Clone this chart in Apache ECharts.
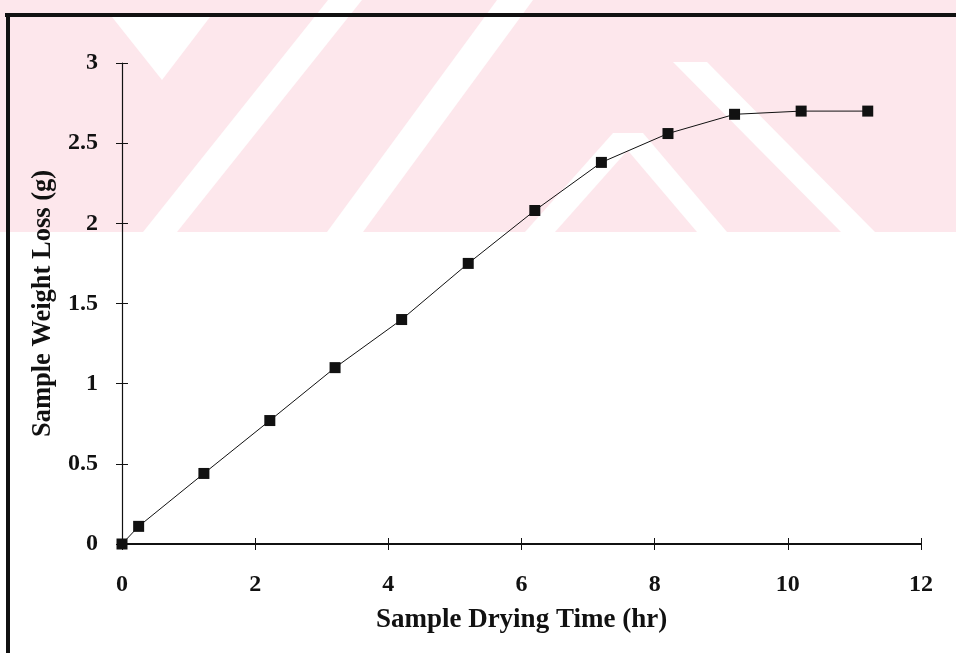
<!DOCTYPE html>
<html>
<head>
<meta charset="utf-8">
<script src="https://cdn.jsdelivr.net/npm/echarts@6/dist/echarts.min.js"></script>
<style>
html,body{margin:0;padding:0;background:#fff;}
#chart{width:956px;height:653px;}
</style>
</head>
<body>
<div id="chart"></div>
<script>
// Data
const dryingTime = [0, 0.25, 1.23, 2.22, 3.2, 4.2, 5.2, 6.2, 7.2, 8.2, 9.2, 10.2, 11.2];
const weightLoss = [0, 0.11, 0.44, 0.77, 1.10, 1.40, 1.75, 2.08, 2.38, 2.56, 2.68, 2.70, 2.70];
const xTicks = [0, 2, 4, 6, 8, 10, 12];
const yTicks = [0, 0.5, 1, 1.5, 2, 2.5, 3];
const xTitle = 'Sample Drying Time (hr)';
const yTitle = 'Sample Weight Loss (g)';

const chart = echarts.init(document.getElementById('chart'), null, {renderer: 'canvas'});
const FONT = '"Liberation Serif", "Times New Roman", serif';
const pink = '#fde7ec';

function band(p1, p2, w) {
  return [[p1[0]-w/2,p1[1]],[p1[0]+w/2,p1[1]],[p2[0]+w/2,p2[1]],[p2[0]-w/2,p2[1]]];
}
const wm = [
  {type:'rect', shape:{x:0,y:0,width:956,height:232}, style:{fill:pink}, z:-10, silent:true}
];
const whiteShapes = [
  band([345,0],[160,232],34),
  band([515,0],[345,232],36),
  band([628,133],[540,232],30),
  band([628,133],[712,232],30),
  band([690,62],[858,232],34),
  [[112,17],[210,17],[162,80]]
];
whiteShapes.forEach(pts => wm.push({type:'polygon', shape:{points:pts}, style:{fill:'#fff'}, z:-9, silent:true}));
// frame
wm.push({type:'rect', shape:{x:5,y:13,width:951,height:4}, style:{fill:'#111'}, z:-5, silent:true});
wm.push({type:'rect', shape:{x:6,y:13,width:4,height:640}, style:{fill:'#111'}, z:-5, silent:true});

const labelStyle = {color:'#111', fontFamily:FONT, fontWeight:'bold', fontSize:24};
const nameStyle = {color:'#111', fontFamily:FONT, fontWeight:'bold', fontSize:27};

chart.setOption({
  animation:false,
  backgroundColor:'#fff',
  graphic: wm,
  grid:{left:122, right:35, top:63, bottom:109, containLabel:false},
  xAxis:[{
    type:'value', min:xTicks[0], max:xTicks[xTicks.length-1], interval:2,
    name:xTitle, nameLocation:'middle', nameGap:63, nameTextStyle:nameStyle,
    axisLine:{show:true, onZero:false, lineStyle:{color:'#111', width:2}},
    axisTick:{show:true, length:6, lineStyle:{color:'#111', width:1}},
    axisLabel:Object.assign({margin:29}, labelStyle),
    splitLine:{show:false}
  },{
    type:'value', min:xTicks[0], max:xTicks[xTicks.length-1], interval:2, position:'bottom',
    axisLine:{show:false}, axisTick:{show:true, inside:true, length:6, lineStyle:{color:'#111', width:1}},
    axisLabel:{show:false}, splitLine:{show:false}
  }],
  yAxis:[{
    type:'value', min:yTicks[0], max:yTicks[yTicks.length-1], interval:0.5,
    name:yTitle, nameLocation:'middle', nameGap:65, nameRotate:90,
    nameTextStyle:Object.assign({}, nameStyle, {fontSize:26.5}),
    axisLine:{show:true, onZero:false, lineStyle:{color:'#111', width:1.2}},
    axisTick:{show:true, length:6, lineStyle:{color:'#111', width:1}},
    axisLabel:Object.assign({margin:24}, labelStyle),
    splitLine:{show:false}
  },{
    type:'value', min:yTicks[0], max:yTicks[yTicks.length-1], interval:0.5, position:'left',
    axisLine:{show:false}, axisTick:{show:true, inside:true, length:6, lineStyle:{color:'#111', width:1}},
    axisLabel:{show:false}, splitLine:{show:false}
  }],
  series:[{
    type:'line',
    data: dryingTime.map((t,i)=>[t, weightLoss[i]]),
    symbol:'rect', symbolSize:11,
    itemStyle:{color:'#111'},
    lineStyle:{color:'#111', width:1},
    clip:false
  }]
});
</script>
</body>
</html>
